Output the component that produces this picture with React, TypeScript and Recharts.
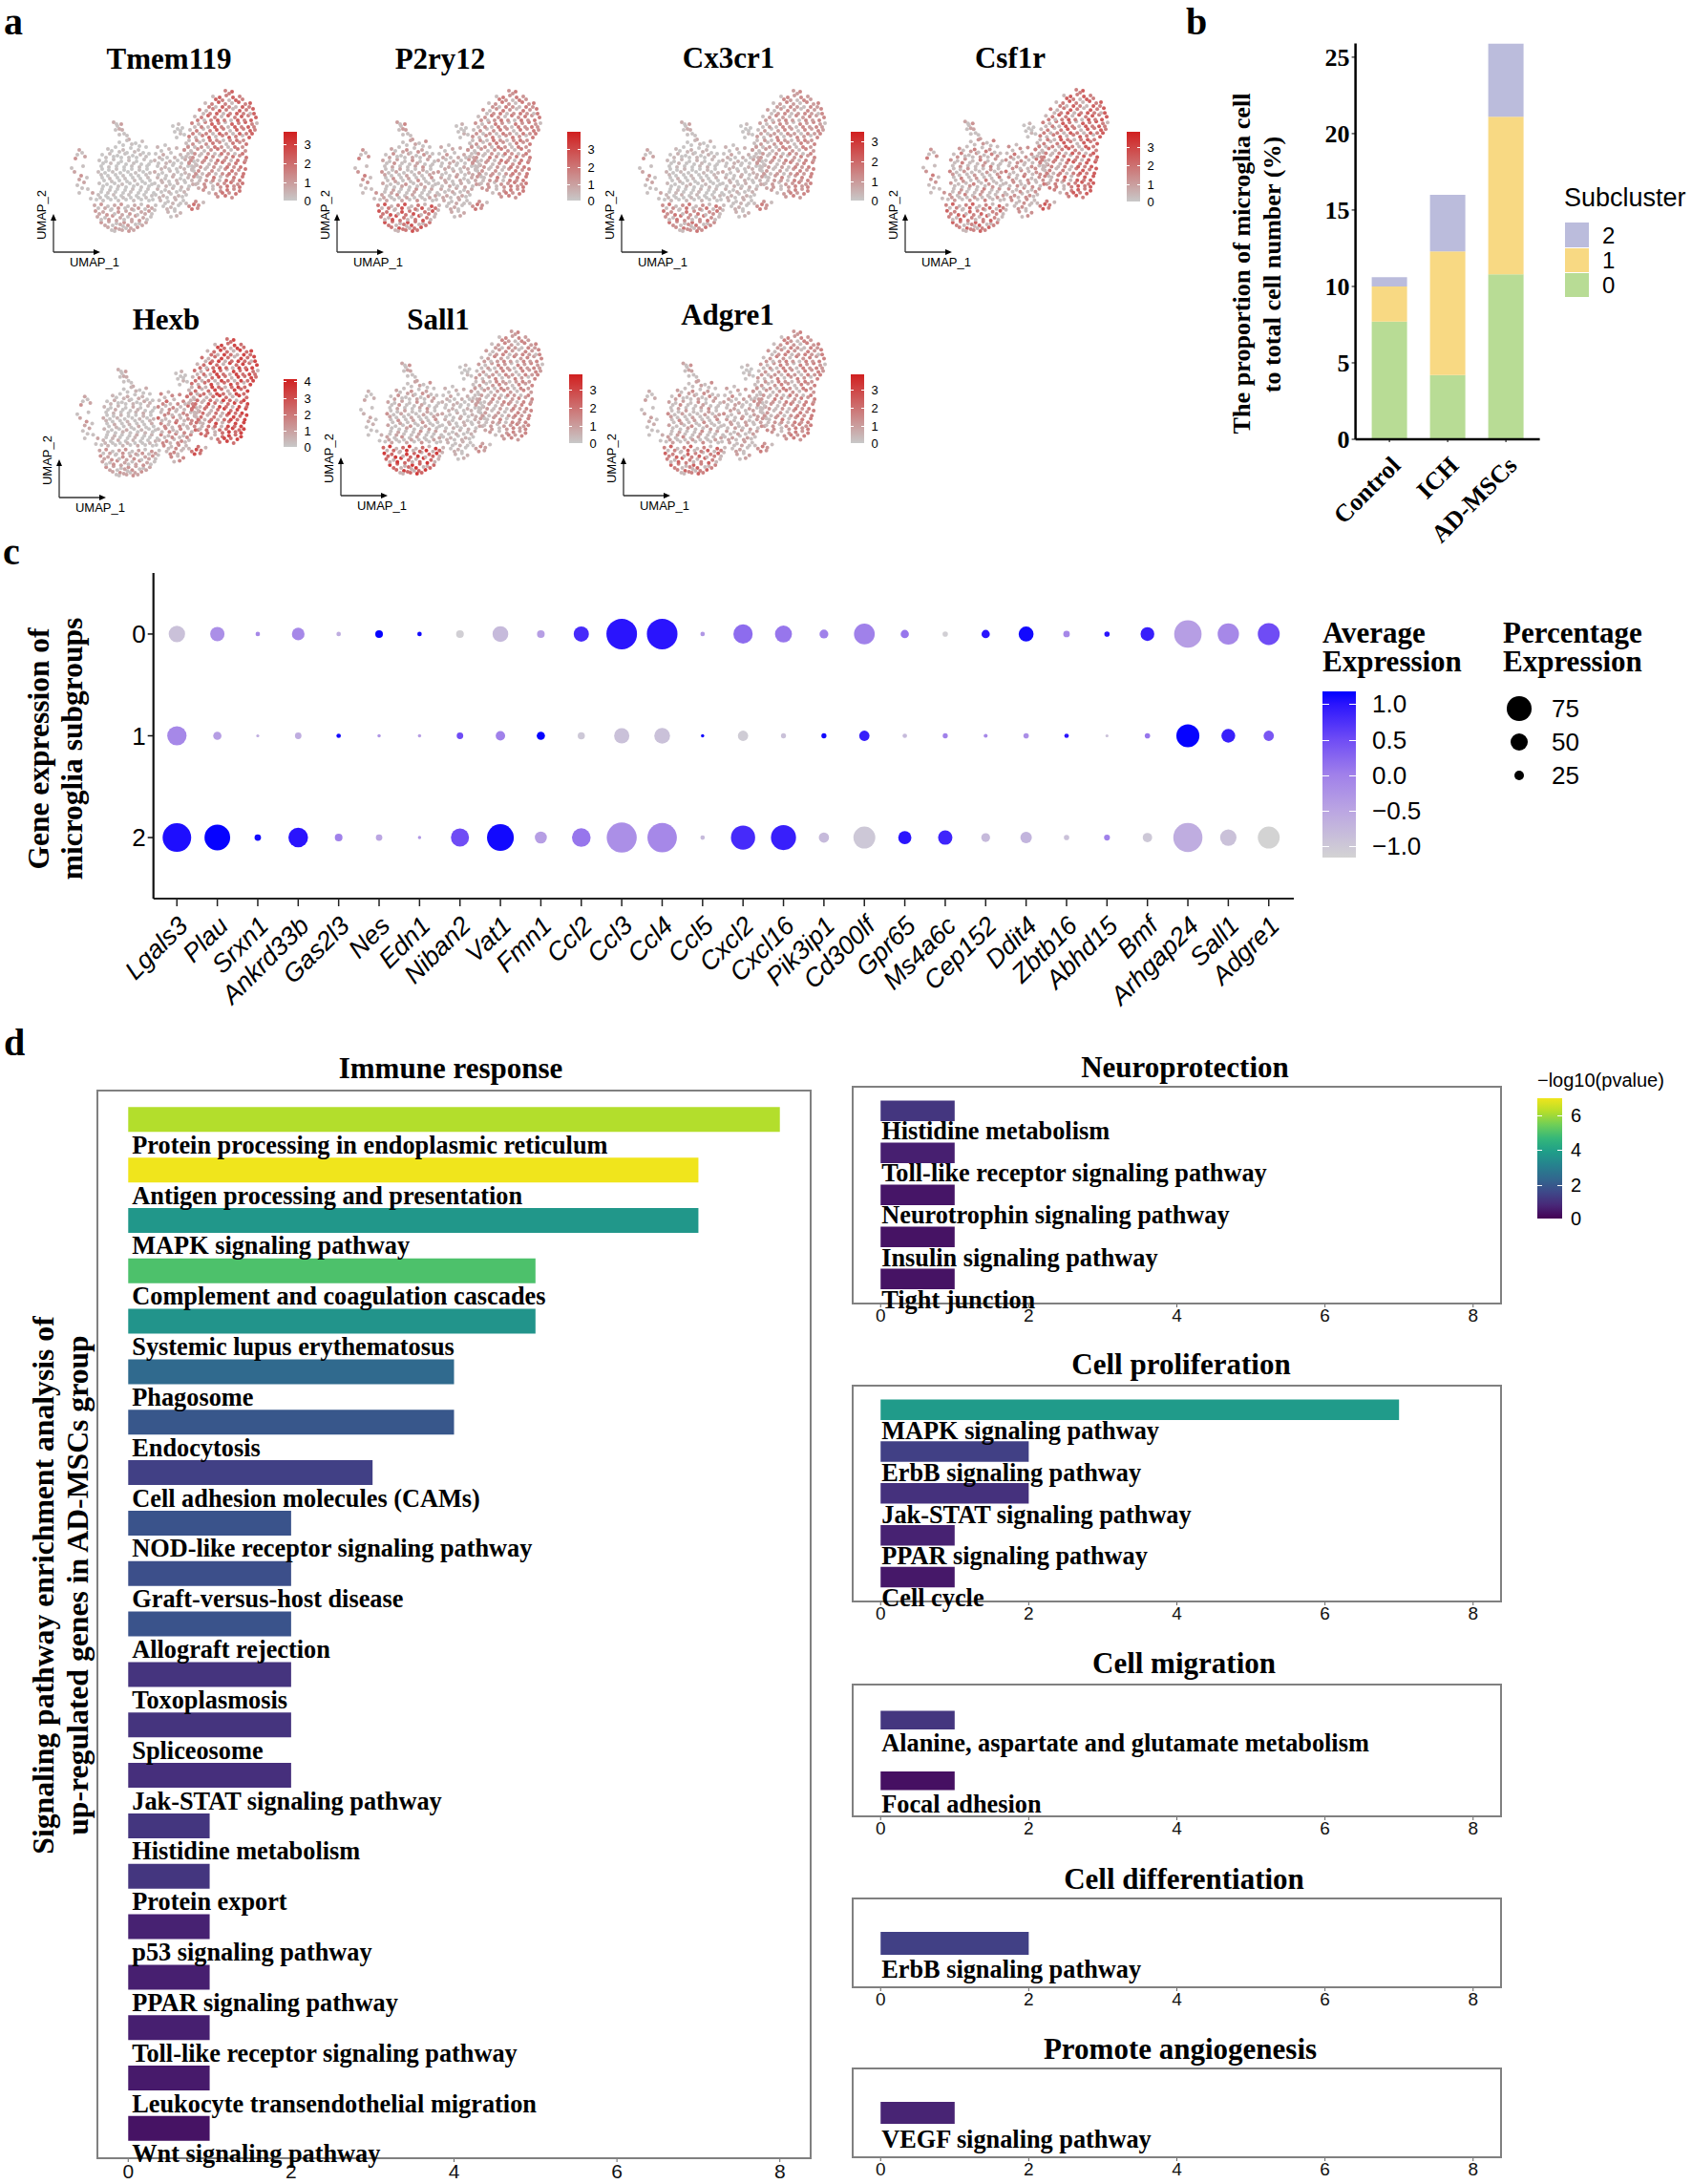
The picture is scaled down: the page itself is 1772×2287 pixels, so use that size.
import React from 'react'
import {
  Bar,
  BarChart,
  Cell,
  LabelList,
  Scatter,
  ScatterChart,
  XAxis,
  YAxis
} from 'recharts'

// ---- panel a: UMAP cells, hand read per cluster as [x, y, level class]
const clusterA = [[10,63,1],[13,66,0],[6,72,2],[2,82,0],[5,86,1],[14,80,0],[12,90,2],[18,92,0],[15,97,1],[8,100,0],[19,104,0],[24,108,1],[10,108,0],[22,114,0],[8,68,0],[16,70,1],[10,94,1],[13,103,0]]
const clusterB = [[46,34,1],[50,38,0],[54,36,2],[48,42,0],[55,42,1],[52,47,0],[60,48,0],[62,52,1],[49,36,0],[52,41,1],[57,46,0]]
const clusterC = [
  [52,55,0],[60,53,1],[69,56,0],[76,54,2],[40,62,1],[48,60,0],[56,63,2],[64,61,0],[72,63,1],[80,60,0],
  [34,68,0],[42,67,2],[50,69,0],[58,67,1],[66,69,0],[74,68,2],[83,67,0],[31,74,1],[38,75,0],[46,73,1],
  [54,75,0],[62,74,2],[70,75,0],[78,73,1],[85,75,0],[33,80,0],[41,81,1],[49,80,0],[57,81,0],[65,80,1],
  [73,81,2],[81,80,0],[30,86,2],[37,87,0],[45,86,1],[53,87,0],[61,86,0],[69,87,1],[77,86,0],[84,87,1],
  [34,92,0],[42,93,2],[50,92,0],[58,93,1],[66,92,0],[74,93,0],[82,92,2],[31,98,1],[39,99,0],[47,98,0],
  [55,99,2],[63,98,0],[71,99,1],[79,98,0],[86,99,0],[34,104,0],[42,105,1],[50,104,0],[58,105,0],[66,104,2],
  [74,105,0],[82,104,1],[30,110,1],[38,111,0],[46,110,2],[54,111,0],[62,110,1],[70,111,0],[78,110,0],[86,111,1],
  [28,115,0],[35,116,1],[43,115,0],[51,116,1],[59,115,0],[67,116,2],[75,115,0],[83,116,0],
  [56,58,0],[65,57,1],[73,59,0],[44,64,0],[52,65,1],[60,66,0],[68,65,2],[77,66,0],[38,71,1],[46,70,0],
  [54,71,0],[62,71,1],[70,71,0],[80,70,1],[35,77,0],[43,77,2],[51,77,0],[59,78,0],[67,77,1],[75,78,0],
  [83,78,0],[34,83,0],[41,84,0],[49,83,1],[57,84,0],[65,83,0],[73,84,1],[81,83,0],[33,89,1],[40,90,0],
  [48,89,0],[56,90,1],[64,89,0],[72,90,0],[80,89,1],[36,95,0],[44,96,1],[52,95,0],[60,96,0],[68,95,2],
  [76,96,0],[84,95,0],[35,101,0],[43,102,0],[51,101,1],[59,102,0],[67,101,0],[75,102,1],[83,101,0],[33,107,0],
  [40,108,1],[48,107,0],[56,108,0],[64,107,1],[72,108,0],[80,107,0],[88,108,0],[32,113,1],[40,113,0],[48,113,0],
  [56,113,1],[64,113,0],[72,113,0],[80,113,1],[87,115,0]
]
const clusterD = [
  [26,121,1],[33,120,2],[40,122,0],[47,121,1],[54,120,2],[61,122,0],[68,121,1],[75,120,0],[82,122,2],[90,121,0],
  [27,127,2],[35,128,1],[43,126,0],[51,128,2],[59,127,1],[67,126,0],[75,128,1],[83,127,2],[89,126,0],
  [29,133,1],[37,134,0],[45,132,2],[53,134,1],[61,133,0],[69,132,2],[77,134,1],[85,133,0],
  [33,139,2],[41,138,1],[49,140,0],[57,139,2],[65,138,1],[73,140,0],[80,139,1],
  [40,144,1],[48,145,2],[56,143,0],[64,145,1],[71,144,2],[47,148,0],[55,147,1],[62,148,2],
  [30,124,0],[37,124,1],[44,125,0],[51,124,2],[58,124,0],[65,125,1],[72,124,2],[79,125,0],[86,124,1],
  [31,130,1],[39,131,2],[47,130,0],[55,131,1],[63,130,2],[71,131,0],[79,130,1],[86,130,0],
  [33,136,0],[41,136,2],[49,137,1],[57,136,0],[65,136,1],[73,137,2],[81,136,0],
  [37,142,1],[45,142,0],[53,141,1],[61,142,2],[69,141,0],[76,142,1],[44,147,0],[52,146,1],[59,145,0],[67,147,1]
]
const clusterE = [
  [92,60,1],[100,58,0],[112,61,1],[124,59,0],[90,67,0],[98,68,2],[106,66,0],[116,68,1],[128,66,0],
  [89,74,1],[97,73,0],[105,75,1],[113,74,0],[121,73,2],[130,75,0],[92,80,0],[100,81,1],[108,79,0],[116,81,1],[124,80,0],[133,79,1],
  [89,86,2],[97,87,0],[105,85,1],[113,86,0],[121,87,1],[130,85,0],[92,92,1],[100,93,0],[108,91,2],[116,93,0],[124,92,1],[134,91,0],
  [89,98,0],[97,97,1],[105,99,0],[113,98,1],[121,97,0],[129,99,2],[92,104,1],[100,105,0],[108,103,1],[116,105,0],[124,104,1],[135,103,2],
  [90,110,0],[98,111,1],[106,109,0],[114,111,1],[122,110,0],[95,116,1],[103,117,0],[111,115,1],[119,116,0],
  [98,122,0],[106,123,1],[114,121,0],[103,128,1],[110,127,0],[116,129,1],[106,133,0],[112,132,1],
  [96,64,0],[104,62,1],[120,63,0],[94,71,1],[102,71,0],[110,71,1],[118,71,0],[126,71,1],
  [93,77,0],[101,77,1],[109,77,0],[117,77,0],[125,76,1],[128,80,0],[96,83,1],[104,83,0],[112,83,0],[120,83,1],[128,83,0],
  [93,89,0],[101,90,0],[109,89,1],[117,89,0],[125,89,1],[133,89,0],[96,95,1],[104,96,0],[112,95,1],[120,95,0],[128,95,1],
  [93,101,0],[101,101,1],[109,101,0],[117,102,1],[125,101,0],[132,99,1],[96,107,0],[104,107,1],[112,107,0],[120,107,1],
  [94,113,1],[102,113,0],[110,113,1],[118,112,0],[100,119,0],[108,119,1],[116,119,0],[102,125,1],[110,125,0]
]
const clusterI = [[108,38,0],[114,36,1],[118,40,0],[110,44,0],[116,46,1],[112,50,0],[120,47,0],[113,41,0],[116,43,0]]
const clusterF = [
  [163,1,1],[170,2,2],[150,7,0],[157,8,2],[164,6,1],[171,8,2],[178,7,1],
  [142,14,0],[149,15,1],[156,13,2],[163,15,1],[170,14,0],[177,13,2],[184,15,1],[189,14,2],
  [136,21,1],[143,22,0],[150,20,1],[157,22,2],[164,21,1],[171,20,0],[178,22,2],[185,21,1],[192,20,2],
  [131,28,0],[138,29,1],[145,27,2],[152,29,1],[159,28,0],[166,27,2],[173,29,1],[180,28,2],[187,27,1],[195,29,2],
  [128,35,1],[135,36,0],[142,34,1],[149,36,2],[156,35,1],[163,34,0],[170,36,2],[177,35,1],[184,34,2],[191,36,1],[196,35,0],
  [126,42,0],[133,43,1],[140,41,0],[147,43,1],[154,42,2],[161,41,1],[168,43,0],[175,42,2],[182,41,1],[189,43,2],[194,42,1],
  [125,49,1],[132,50,0],[139,48,1],[146,50,2],[153,49,0],[160,48,1],[167,50,2],[174,49,1],[181,48,0],[188,50,2],
  [167,4,1],[153,10,2],[160,11,1],[167,11,0],[174,11,2],[181,10,1],
  [146,18,1],[153,18,0],[160,18,2],[167,18,1],[174,18,0],[181,18,2],[188,18,1],
  [140,25,0],[147,25,1],[154,25,2],[161,25,0],[168,25,1],[175,25,2],[182,25,1],[189,25,0],[193,25,2],
  [134,32,1],[141,32,0],[148,32,1],[155,32,2],[162,32,1],[169,32,0],[176,32,2],[183,32,1],[190,32,2],
  [131,39,0],[138,39,1],[145,39,0],[152,39,2],[159,39,1],[166,39,0],[173,39,2],[180,39,1],[187,39,2],[193,39,1],
  [129,46,1],[136,46,0],[143,46,1],[150,46,0],[157,46,2],[164,46,1],[171,46,0],[178,46,2],[185,46,1],[191,46,2]
]
const clusterG = [
  [122,56,0],[129,57,1],[136,55,0],[143,57,1],[150,56,2],[157,55,1],[164,57,0],[171,56,2],[178,55,1],[185,57,2],
  [120,63,1],[127,64,0],[134,62,1],[141,64,0],[148,63,1],[155,62,2],[162,64,1],[169,63,0],[176,62,2],[184,64,1],
  [122,70,0],[129,71,1],[136,69,0],[143,71,2],[150,70,1],[157,69,0],[164,71,1],[171,70,2],[178,69,1],[185,71,2],
  [125,77,1],[132,78,0],[139,76,1],[146,78,0],[153,77,1],[160,76,2],[167,78,1],[174,77,2],[183,76,2],
  [128,84,0],[135,85,1],[142,83,0],[149,85,1],[156,84,0],[163,83,1],[170,85,2],[177,84,1],[184,83,2],
  [130,91,1],[137,92,0],[144,90,1],[151,92,2],[158,91,0],[165,90,1],[172,92,2],[181,91,2],
  [134,98,0],[141,99,1],[148,97,0],[155,99,1],[162,98,1],[169,97,2],[176,99,1],[181,98,2],
  [140,105,1],[150,104,0],[158,106,1],[165,105,2],[172,104,1],[178,106,2],[155,112,1],[163,111,2],[170,113,1],
  [125,53,0],[133,53,1],[140,53,0],[147,53,2],[154,53,1],[161,53,0],[168,53,1],[175,53,2],[182,53,1],
  [124,60,1],[131,60,0],[138,60,1],[145,60,0],[152,60,2],[159,60,1],[166,60,0],[173,60,2],[181,60,1],
  [124,67,0],[131,67,1],[138,67,0],[145,67,1],[152,67,0],[159,67,2],[166,67,1],[173,67,0],[181,67,2],
  [127,74,1],[134,74,0],[141,74,1],[148,74,0],[155,74,2],[162,74,1],[169,74,0],[176,74,2],[184,74,1],
  [130,81,0],[137,81,1],[144,81,0],[151,81,1],[158,81,0],[165,81,2],[172,81,1],[179,81,2],
  [132,88,1],[139,88,0],[146,88,1],[153,88,0],[160,88,1],[167,88,2],[174,88,1],[182,88,2],
  [136,95,0],[143,95,1],[150,95,1],[157,95,0],[164,95,2],[171,95,1],[178,95,2],
  [142,102,1],[150,101,0],[158,102,1],[165,101,2],[172,101,1],[178,102,2],[146,108,0],[153,109,1],[160,108,2],[167,108,1],[174,109,2]
]
const clusterH = [[125,122,1],[130,120,2],[135,121,1],[140,118,0],[128,125,2],[134,124,1],[122,119,0],[132,117,1]]
const clusters = [clusterA, clusterB, clusterC, clusterD, clusterE, clusterI, clusterF, clusterG, clusterH]

// expression level per cluster, same order as clusters
const tmem119Levels = [0.9, 0.7, 0.2, 0.8, 0.5, 0.3, 1.75, 1.4, 1.5]
const p2ry12Levels = [1.3, 1.1, 0.9, 2.0, 0.8, 0.6, 1.3, 1.3, 1.4]
const cx3cr1Levels = [0.9, 0.7, 0.4, 1.4, 0.6, 0.3, 1.05, 1.15, 1.3]
const csf1rLevels = [1.3, 0.9, 1.2, 1.7, 1.4, 0.5, 1.8, 1.8, 1.9]
const hexbLevels = [0.9, 0.7, 0.5, 0.9, 1.6, 0.6, 2.2, 2.2, 2.1]
const sall1Levels = [0.6, 0.9, 0.9, 2.4, 0.6, 0.4, 1.1, 1.1, 1.0]
const adgre1Levels = [0.7, 0.9, 1.0, 1.7, 1.0, 0.4, 1.2, 1.25, 1.3]
const levelClass = [0.2, 0.85, 1.25]
const featureStops = ['#c8c8c8', '#d11f1f']

// ---- panel b
const groups = ['Control', 'ICH', 'AD-MSCs']
const subcluster0 = [7.7, 4.2, 10.8]
const subcluster1 = [2.3, 8.1, 10.3]
const subcluster2 = [0.6, 3.7, 4.8]
const subColors = ['#b8dc95', '#f8d983', '#bbbcdc']
const proportionTicks = [0, 5, 10, 15, 20, 25]

// ---- panel c
const dotGenes = ['Lgals3','Plau','Srxn1','Ankrd33b','Gas2l3','Nes','Edn1','Niban2','Vat1','Fmn1','Ccl2','Ccl3','Ccl4','Ccl5','Cxcl2','Cxcl16','Pik3ip1','Cd300lf','Gpr65','Ms4a6c','Cep152','Ddit4','Zbtb16','Abhd15','Bmf','Arhgap24','Sall1','Adgre1']
const pctRow0 = [47,40,6,34,6,17,6,17,45,17,43,96,96,6,57,49,21,62,19,9,19,42,13,9,38,85,64,66]
const pctRow1 = [57,19,1,13,6,2,2,13,23,19,15,43,45,2,26,8,8,26,6,8,4,9,6,1,9,70,38,26]
const pctRow2 = [89,79,13,58,17,13,2,53,83,32,55,94,92,6,74,77,26,66,36,40,21,30,9,11,23,91,47,66]
const avgRow0 = [-0.9,-0.2,-0.1,-0.1,-0.6,1.15,1.1,-1.1,-0.8,-0.4,0.8,1.0,1.0,-0.3,0.2,0.1,0,0,0.1,-1.1,1.0,1.1,-0.1,1.0,0.9,-0.4,-0.1,0.5]
const avgRow1 = [-0.1,-0.4,-0.6,-0.6,1.1,-0.3,-0.4,0.5,0,1.15,-1,-0.9,-0.9,1.1,-1.05,-0.9,1.1,0.9,-0.8,0,-0.1,-0.2,1.0,-0.9,0.1,1.15,0.9,0.4]
const avgRow2 = [1.05,1.15,1.1,1.0,0,-0.5,-0.3,0.5,1.1,-0.4,0.1,-0.2,-0.1,-0.8,0.8,0.9,-0.8,-1,1.0,0.85,-0.8,-0.7,-0.9,0,-1,-0.6,-0.9,-1.15]
const expressionStops = ['#d3d3d3', '#bba6e2', '#a080ea', '#6f4cf5', '#2a14fd', '#0000ff']
const expressionStopAt = [0, 0.28, 0.5, 0.71, 0.925, 1]

// ---- panel d
const immuneNames = ['Protein processing in endoplasmic reticulum','Antigen processing and presentation','MAPK signaling pathway','Complement and coagulation cascades','Systemic lupus erythematosus','Phagosome','Endocytosis','Cell adhesion molecules (CAMs)','NOD-like receptor signaling pathway','Graft-versus-host disease','Allograft rejection','Toxoplasmosis','Spliceosome','Jak-STAT signaling pathway','Histidine metabolism','Protein export','p53 signaling pathway','PPAR signaling pathway','Toll-like receptor signaling pathway','Leukocyte transendothelial migration','Wnt signaling pathway']
const immuneCounts = [8,7,7,5,5,4,4,3,2,2,2,2,2,2,1,1,1,1,1,1,1]
const immunePvals = [6.2,7,3.7,5,3.6,2.4,1.9,1.35,1.8,1.7,1.8,1.05,1.05,0.95,1.1,1.1,0.65,0.6,0.6,0.5,0.35]
const neuroNames = ['Histidine metabolism','Toll-like receptor signaling pathway','Neurotrophin signaling pathway','Insulin signaling pathway','Tight junction']
const neuroCounts = [1,1,1,1,1]
const neuroPvals = [1.1,0.6,0.4,0.35,0.35]
const prolifNames = ['MAPK signaling pathway','ErbB signaling pathway','Jak-STAT signaling pathway','PPAR signaling pathway','Cell cycle']
const prolifCounts = [7,2,2,1,1]
const prolifPvals = [3.8,1.35,1,0.65,0.45]
const migrationNames = ['Alanine, aspartate and glutamate metabolism','Focal adhesion']
const migrationCounts = [1,1]
const migrationPvals = [1.1,0.3]
const differentiationNames = ['ErbB signaling pathway']
const differentiationCounts = [2]
const differentiationPvals = [1.35]
const angiogenesisNames = ['VEGF signaling pathway']
const angiogenesisCounts = [1]
const angiogenesisPvals = [0.7]
const viridis = ['#440154','#482878','#3e4989','#31688e','#26828e','#1f9e89','#35b779','#6ece58','#b5de2b','#f0e51c']
const countTicks = [0, 2, 4, 6, 8]

const SERIF = "'Liberation Serif', serif"
const SANS = "'Liberation Sans', sans-serif"

function hexRgb(h: string) {
  return [1, 3, 5].map((i) => parseInt(h.slice(i, i + 2), 16))
}

function mix(stops: string[], t: number, at?: number[]) {
  const u = Math.max(0, Math.min(1, t))
  const pos = at || stops.map((_, i) => i / (stops.length - 1))
  let i = 0
  while (i < stops.length - 2 && u > pos[i + 1]) i++
  const f = (u - pos[i]) / (pos[i + 1] - pos[i])
  const a = hexRgb(stops[i])
  const b = hexRgb(stops[i + 1])
  return `rgb(${a.map((v, k) => Math.round(v + (b[k] - v) * f)).join(',')})`
}

function T({ x, y, s, bold, serif, italic, rot = 0, start, children }: any) {
  return (
    <div
      style={{
        position: 'absolute',
        left: x,
        top: y,
        fontFamily: serif ? SERIF : SANS,
        fontSize: s,
        fontWeight: bold ? 700 : 400,
        fontStyle: italic ? 'italic' : 'normal',
        lineHeight: 1,
        whiteSpace: 'nowrap',
        color: '#000',
        transform: `translate(${start ? '0' : '-50%'},-50%) rotate(${rot}deg)`
      }}
    >
      {children}
    </div>
  )
}

function ColorBar({ x, y, w, h, stops, at, tickYs }: any) {
  const css = stops
    .map((c: string, i: number) => `${c} ${((at ? at[i] : i / (stops.length - 1)) * 100).toFixed(1)}%`)
    .join(',')
  const mark = Math.round(w * 0.2)
  return (
    <div style={{ position: 'absolute', left: x, top: y, width: w, height: h, background: `linear-gradient(to top, ${css})` }}>
      {tickYs.map((t: number) => (
        <React.Fragment key={t}>
          <div style={{ position: 'absolute', left: 0, top: t - y, width: mark, height: 1, background: '#fff' }} />
          <div style={{ position: 'absolute', right: 0, top: t - y, width: mark, height: 1, background: '#fff' }} />
        </React.Fragment>
      ))}
    </div>
  )
}

const PAD = 4

function UmapPanel({ gene, levels, cloud, title, origin, bar, ticks }: any) {
  const [cx, cy, cw, ch] = cloud
  const cells = clusters.flatMap((list, c) =>
    list.map((p) => ({
      x: p[0],
      y: p[1],
      fill: mix(featureStops, (levels[c] * levelClass[p[2]]) / 3.6)
    }))
  )
  return (
    <>
      <T x={title[0]} y={title[1]} s={31} bold serif>{gene}</T>
      <div style={{ position: 'absolute', left: cx - PAD, top: cy - PAD }}>
        <ScatterChart width={cw + PAD * 2} height={ch + PAD * 2} margin={{ top: PAD, right: PAD, bottom: PAD, left: PAD }}>
          <XAxis type="number" dataKey="x" hide domain={[0, 196]} />
          <YAxis type="number" dataKey="y" hide reversed domain={[0, 148]} />
          <Scatter
            data={cells}
            isAnimationActive={false}
            shape={(p: any) => <circle cx={p.cx} cy={p.cy} r={2} fill={p.payload.fill} />}
          />
        </ScatterChart>
      </div>
      <ColorBar x={bar[0]} y={bar[1]} w={14} h={bar[2] - bar[1]} stops={featureStops} tickYs={ticks.map((t: number[]) => t[1])} />
      {ticks.map((t: number[]) => (
        <T key={t[0]} x={bar[0] + 25} y={t[1]} s={13}>{t[0]}</T>
      ))}
      <svg style={{ position: 'absolute', left: origin[0] - 5, top: origin[1] - 40 }} width={56} height={46}>
        <path d="M5 40 H50 M5 40 V4" stroke="#333" strokeWidth={1.3} fill="none" />
        <path d="M5 0 L8 7 L2 7 Z M54 40 L47 37 L47 43 Z" fill="#000" />
      </svg>
      <T x={origin[0] + 43} y={origin[1] + 10} s={13}>UMAP_1</T>
      <T x={origin[0] - 13} y={origin[1] - 39} s={13} rot={-90}>UMAP_2</T>
    </>
  )
}

function GroupTick({ x, y, payload }: any) {
  return (
    <text
      x={x + 13}
      y={y + 24}
      transform={`rotate(-45 ${x + 13} ${y + 24})`}
      textAnchor="end"
      fontFamily={SERIF}
      fontWeight={700}
      fontSize={26}
      fill="#000"
    >
      {payload.value}
    </text>
  )
}

function GeneTick({ x, y, payload }: any) {
  return (
    <text
      x={x + 13}
      y={y + 20}
      transform={`rotate(-45 ${x + 13} ${y + 20})`}
      textAnchor="end"
      fontFamily={SANS}
      fontStyle="italic"
      fontSize={27}
      fill="#000"
    >
      {dotGenes[payload.value]}
    </text>
  )
}

const dotRadius = (pct: number) => 1.435 + 0.152 * pct

function PathwayPanel({ title, titleX, titleY, names, counts, pvals, box, barSize, pad, labelDx, labelDy, tickSize }: any) {
  const [x, y, w, h] = box
  const rows = names.map((name: string, i: number) => ({ name, count: counts[i], p: pvals[i] }))
  const renderLabel = (p: any) => (
    <text
      x={p.x + labelDx}
      y={p.y + p.height + labelDy}
      dominantBaseline="central"
      fontFamily={SERIF}
      fontWeight={700}
      fontSize={26.3}
      fill="#000"
    >
      {p.value}
    </text>
  )
  return (
    <>
      <T x={titleX} y={titleY} s={31} bold serif>{title}</T>
      <div style={{ position: 'absolute', left: x, top: y, width: w, height: h, boxSizing: 'border-box', border: '2px solid #808080' }} />
      <div style={{ position: 'absolute', left: x, top: y }}>
        <BarChart width={w} height={h + 30} data={rows} layout="vertical" margin={{ top: 0, right: 0, bottom: 0, left: 0 }}>
          <XAxis
            type="number"
            domain={[-0.39, 8.39]}
            allowDataOverflow
            ticks={countTicks}
            interval={0}
            axisLine={false}
            tickLine={{ stroke: '#666' }}
            tickSize={3}
            height={30}
            tick={{ fontFamily: SANS, fontSize: tickSize, fill: '#111' }}
          />
          <YAxis type="category" dataKey="name" hide padding={{ top: pad, bottom: pad }} />
          <Bar dataKey="count" barSize={barSize} isAnimationActive={false}>
            {rows.map((r: any) => (
              <Cell key={r.name} fill={mix(viridis, r.p / 7)} />
            ))}
            <LabelList dataKey="name" content={renderLabel} />
          </Bar>
        </BarChart>
      </div>
    </>
  )
}

export default function App() {
  const stackRows = groups.map((g, i) => ({ g, s0: subcluster0[i], s1: subcluster1[i], s2: subcluster2[i] }))
  const dots = [
    [pctRow0, avgRow0],
    [pctRow1, avgRow1],
    [pctRow2, avgRow2]
  ].flatMap(([pct, avg], row) =>
    dotGenes.map((_, gene) => ({ gene, row, pct: pct[gene], avg: avg[gene] }))
  )

  return (
    <div style={{ position: 'absolute', left: 0, top: 0, width: 1772, height: 2287, background: '#fff', overflow: 'hidden' }}>
      <T x={14} y={23} s={40} bold serif>a</T>
      <T x={1253} y={23} s={40} bold serif>b</T>
      <T x={12} y={578} s={40} bold serif>c</T>
      <T x={15} y={1092} s={40} bold serif>d</T>

      {/* a: feature plots */}
      <UmapPanel gene="Tmem119" levels={tmem119Levels} cloud={[73, 94, 196, 148]} title={[177, 61]} origin={[56, 264]} bar={[297, 138, 210]} ticks={[[3, 151], [2, 171], [1, 191], [0, 210]]} />
      <UmapPanel gene="P2ry12" levels={p2ry12Levels} cloud={[370, 94, 196, 148]} title={[461, 61]} origin={[353, 264]} bar={[594, 138, 210]} ticks={[[3, 156], [2, 175], [1, 193], [0, 210]]} />
      <UmapPanel gene="Cx3cr1" levels={cx3cr1Levels} cloud={[668, 94, 196, 148]} title={[763, 60]} origin={[651, 264]} bar={[891, 138, 210]} ticks={[[3, 148], [2, 169], [1, 190], [0, 210]]} />
      <UmapPanel gene="Csf1r" levels={csf1rLevels} cloud={[965, 93, 195, 149]} title={[1058, 60]} origin={[948, 264]} bar={[1180, 138, 211]} ticks={[[3, 154], [2, 173], [1, 193], [0, 211]]} />
      <UmapPanel gene="Hexb" levels={hexbLevels} cloud={[79, 354, 191, 144]} title={[174, 334]} origin={[62, 521]} bar={[297, 397, 468]} ticks={[[4, 399], [3, 417], [2, 434], [1, 451], [0, 468]]} />
      <UmapPanel gene="Sall1" levels={sall1Levels} cloud={[376, 346, 192, 150]} title={[459, 334]} origin={[357, 519]} bar={[596, 392, 464]} ticks={[[3, 408], [2, 427], [1, 446], [0, 464]]} />
      <UmapPanel gene="Adgre1" levels={adgre1Levels} cloud={[670, 346, 194, 150]} title={[762, 329]} origin={[653, 519]} bar={[891, 392, 464]} ticks={[[3, 408], [2, 427], [1, 446], [0, 464]]} />

      {/* b: stacked proportions */}
      <div style={{ position: 'absolute', left: 1350, top: 30 }}>
        <BarChart width={300} height={540} data={stackRows} margin={{ top: 15.5, right: 37.4, bottom: 0, left: 0 }}>
          <XAxis
            dataKey="g"
            height={110}
            padding={{ left: 5, right: 5 }}
            interval={0}
            tick={<GroupTick />}
            tickSize={3}
            axisLine={{ stroke: '#000', strokeWidth: 2.5 }}
            tickLine={{ stroke: '#000' }}
          />
          <YAxis
            width={69.6}
            domain={[0, 25.9]}
            ticks={proportionTicks}
            allowDataOverflow
            interval={0}
            tickSize={4}
            axisLine={{ stroke: '#000', strokeWidth: 2.5 }}
            tickLine={{ stroke: '#000' }}
            tick={{ fontFamily: SERIF, fontWeight: 700, fontSize: 26, fill: '#000' }}
          />
          <Bar dataKey="s0" stackId="a" barSize={37} fill={subColors[0]} isAnimationActive={false} />
          <Bar dataKey="s1" stackId="a" barSize={37} fill={subColors[1]} isAnimationActive={false} />
          <Bar dataKey="s2" stackId="a" barSize={37} fill={subColors[2]} isAnimationActive={false} />
        </BarChart>
      </div>
      <T x={1301} y={276} s={26.2} bold serif rot={-90}>The proportion of microglia cell</T>
      <T x={1333} y={277} s={26.2} bold serif rot={-90}>to total cell number (%)</T>
      <T x={1638} y={207} s={27} start>Subcluster</T>
      <div style={{ position: 'absolute', left: 1639, top: 233, width: 25, height: 26, background: subColors[2] }} />
      <div style={{ position: 'absolute', left: 1639, top: 260, width: 25, height: 25, background: subColors[1] }} />
      <div style={{ position: 'absolute', left: 1639, top: 286, width: 25, height: 25, background: subColors[0] }} />
      <T x={1678} y={247} s={24} start>2</T>
      <T x={1678} y={273} s={24} start>1</T>
      <T x={1678} y={299} s={24} start>0</T>

      {/* c: dot plot */}
      <div style={{ position: 'absolute', left: 100, top: 590 }}>
        <ScatterChart width={1300} height={500} margin={{ top: 10, right: 45, bottom: 0, left: 0 }}>
          <XAxis
            type="number"
            dataKey="gene"
            domain={[-0.58, 27.62]}
            allowDataOverflow
            ticks={dotGenes.map((_, i) => i)}
            interval={0}
            height={149}
            tickSize={8}
            tick={<GeneTick />}
            axisLine={{ stroke: '#222', strokeWidth: 2.2 }}
            tickLine={{ stroke: '#222', strokeWidth: 1.5 }}
          />
          <YAxis
            type="number"
            dataKey="row"
            reversed
            domain={[-0.6, 2.6]}
            allowDataOverflow
            ticks={[0, 1, 2]}
            interval={0}
            width={60.7}
            tickSize={6}
            tick={{ fontFamily: SANS, fontSize: 26, fill: '#000' }}
            axisLine={{ stroke: '#111', strokeWidth: 2.2 }}
            tickLine={{ stroke: '#111', strokeWidth: 1.5 }}
          />
          <Scatter
            data={dots}
            isAnimationActive={false}
            shape={(p: any) => (
              <circle
                cx={p.cx}
                cy={p.cy}
                r={dotRadius(p.payload.pct)}
                fill={mix(expressionStops, (p.payload.avg + 1.157) / 2.332, expressionStopAt)}
              />
            )}
          />
        </ScatterChart>
      </div>
      <T x={41} y={784} s={31.5} bold serif rot={-90}>Gene expression of</T>
      <T x={76} y={784} s={31.5} bold serif rot={-90}>microglia subgroups</T>
      <T x={1385} y={662} s={31} bold serif start>Average</T>
      <T x={1385} y={692} s={31} bold serif start>Expression</T>
      <T x={1574} y={662} s={31} bold serif start>Percentage</T>
      <T x={1574} y={692} s={31} bold serif start>Expression</T>
      <ColorBar x={1385} y={724} w={35} h={174} stops={expressionStops} at={expressionStopAt} tickYs={[737, 775, 812, 849, 886]} />
      <T x={1437} y={737} s={26} start>1.0</T>
      <T x={1437} y={775} s={26} start>0.5</T>
      <T x={1437} y={812} s={26} start>0.0</T>
      <T x={1437} y={849} s={26} start>−0.5</T>
      <T x={1437} y={886} s={26} start>−1.0</T>
      {[[75, 742], [50, 777], [25, 812]].map(([v, y]) => (
        <React.Fragment key={v}>
          <div
            style={{
              position: 'absolute',
              left: 1591 - dotRadius(v),
              top: y - dotRadius(v),
              width: dotRadius(v) * 2,
              height: dotRadius(v) * 2,
              borderRadius: '50%',
              background: '#000'
            }}
          />
          <T x={1625} y={y} s={26} start>{v}</T>
        </React.Fragment>
      ))}

      {/* d: enrichment bars */}
      <T x={46} y={1660} s={31.7} bold serif rot={-90}>Signaling pathway enrichment analysis of</T>
      <T x={82} y={1660} s={31.7} bold serif rot={-90}>up-regulated genes in AD-MSCs group</T>
      <PathwayPanel title="Immune response" titleX={472} titleY={1118} names={immuneNames} counts={immuneCounts} pvals={immunePvals} box={[101, 1141, 749, 1120]} barSize={26} pad={5.3} labelDx={4} labelDy={14} tickSize={21} />
      <PathwayPanel title="Neuroprotection" titleX={1241} titleY={1117} names={neuroNames} counts={neuroCounts} pvals={neuroPvals} box={[892, 1137, 681, 229]} barSize={21.5} pad={4.4} labelDx={1} labelDy={11} tickSize={19} />
      <PathwayPanel title="Cell proliferation" titleX={1237} titleY={1428} names={prolifNames} counts={prolifCounts} pvals={prolifPvals} box={[892, 1450, 681, 228]} barSize={21.5} pad={4.4} labelDx={1} labelDy={11.5} tickSize={19} />
      <PathwayPanel title="Cell migration" titleX={1240} titleY={1741} names={migrationNames} counts={migrationCounts} pvals={migrationPvals} box={[892, 1763, 681, 140]} barSize={19.5} pad={6.4} labelDx={1} labelDy={14.5} tickSize={19} />
      <PathwayPanel title="Cell differentiation" titleX={1240} titleY={1967} names={differentiationNames} counts={differentiationCounts} pvals={differentiationPvals} box={[892, 1987, 681, 95]} barSize={24} pad={8} labelDx={1} labelDy={15} tickSize={19} />
      <PathwayPanel title="Promote angiogenesis" titleX={1236} titleY={2145} names={angiogenesisNames} counts={angiogenesisCounts} pvals={angiogenesisPvals} box={[892, 2165, 681, 95]} barSize={23} pad={8} labelDx={1} labelDy={16} tickSize={19} />
      <T x={1610} y={1131} s={20} start>−log10(pvalue)</T>
      <ColorBar x={1610} y={1150} w={26} h={126} stops={viridis} tickYs={[1168, 1204, 1241]} />
      <T x={1645} y={1168} s={20} start>6</T>
      <T x={1645} y={1204} s={20} start>4</T>
      <T x={1645} y={1241} s={20} start>2</T>
      <T x={1645} y={1276} s={20} start>0</T>
    </div>
  )
}
